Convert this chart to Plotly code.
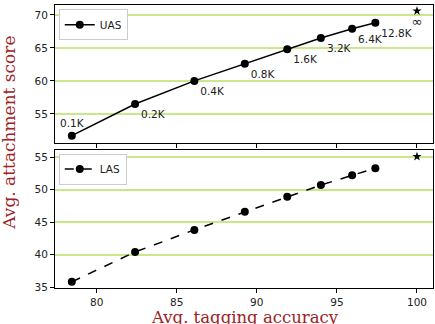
import plotly.graph_objects as go
from plotly.subplots import make_subplots

tag_acc = [78.45, 82.4, 86.1, 89.25, 91.9, 94.0, 95.95, 97.4]
sizes = ["0.1K", "0.2K", "0.4K", "0.8K", "1.6K", "3.2K", "6.4K", "12.8K"]
uas = [51.7, 56.5, 60.0, 62.6, 64.8, 66.5, 67.9, 68.8]
las = [35.8, 40.4, 43.8, 46.6, 48.9, 50.7, 52.2, 53.3]
gold_x = [100]
gold_uas = [70.6]
gold_las = [55.1]
gold_label = ["∞"]

red = "#9e2225"
grid = "#c9e88a"

fig = make_subplots(rows=2, cols=1, shared_xaxes=True, vertical_spacing=0.025)

fig.add_trace(go.Scatter(
    x=tag_acc, y=uas, mode="lines+markers+text", name="UAS",
    line=dict(color="black", width=1.5), marker=dict(color="black", size=8),
    text=sizes, textposition=["top center"] + ["bottom right"] * 7,
    textfont=dict(family="DejaVu Sans", size=10.5, color="#222"),
    cliponaxis=False, legend="legend"), row=1, col=1)
fig.add_trace(go.Scatter(
    x=gold_x, y=gold_uas, mode="markers+text", showlegend=False,
    marker=dict(symbol="star", color="black", size=7),
    text=gold_label, textposition="bottom center",
    textfont=dict(family="DejaVu Sans", size=13, color="#222"),
    cliponaxis=False), row=1, col=1)

fig.add_trace(go.Scatter(
    x=tag_acc, y=las, mode="lines+markers", name="LAS",
    line=dict(color="black", width=1.5, dash="dash"), marker=dict(color="black", size=8),
    cliponaxis=False, legend="legend2"), row=2, col=1)
fig.add_trace(go.Scatter(
    x=gold_x, y=gold_las, mode="markers", showlegend=False,
    marker=dict(symbol="star", color="black", size=7), cliponaxis=False), row=2, col=1)

axis_common = dict(showline=True, linecolor="black", linewidth=1, mirror=True,
                   ticks="outside", ticklen=4, tickcolor="black",
                   tickfont=dict(family="DejaVu Sans", size=10.5, color="#222"),
                   zeroline=False)

fig.update_xaxes(range=[77.4, 101.0], tickvals=[80, 85, 90, 95, 100], showgrid=False, **axis_common)
fig.update_xaxes(showticklabels=False, row=1, col=1)
fig.update_yaxes(showgrid=True, gridcolor=grid, gridwidth=1.5, **axis_common)
fig.update_yaxes(range=[50.6, 71.5], tickvals=[55, 60, 65, 70], row=1, col=1)
fig.update_yaxes(range=[34.85, 56.1], tickvals=[35, 40, 45, 50, 55], row=2, col=1)

fig.update_layout(
    width=435, height=324,
    margin=dict(l=55, r=2, t=5, b=36),
    plot_bgcolor="white", paper_bgcolor="white",
    legend=dict(x=0.01, y=0.985, xanchor="left", yanchor="top",
                bordercolor="#cccccc", borderwidth=1, bgcolor="white",
                font=dict(family="DejaVu Sans", size=10.5, color="#222"),
                itemwidth=30, tracegroupgap=0),
    legend2=dict(x=0.01, y=0.475, xanchor="left", yanchor="top",
                 bordercolor="#cccccc", borderwidth=1, bgcolor="white",
                 font=dict(family="DejaVu Sans", size=10.5, color="#222"),
                 itemwidth=30, tracegroupgap=0),
    annotations=[
        dict(text="Avg. tagging accuracy", xref="paper", yref="paper",
             x=0.503, y=-0.066, xanchor="center", yanchor="top",
             showarrow=False, borderpad=0,
             font=dict(family="DejaVu Serif", size=16.5, color=red)),
        dict(text="Avg. attachment score", xref="paper", yref="paper",
             x=-0.122, y=0.548, xanchor="center", yanchor="middle", textangle=-90,
             showarrow=False, font=dict(family="DejaVu Serif", size=17, color=red)),
    ],
)

fig.write_html("out.html")
